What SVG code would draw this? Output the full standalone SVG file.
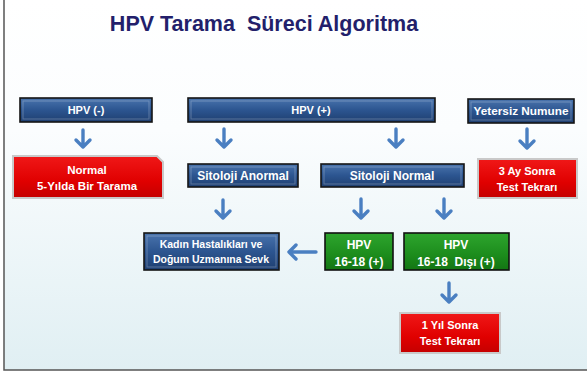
<svg xmlns="http://www.w3.org/2000/svg" width="587" height="374" viewBox="0 0 587 374">
<defs>
<linearGradient id="bg" x1="0" y1="0" x2="0" y2="1">
<stop offset="0" stop-color="#ffffff"/>
<stop offset="0.35" stop-color="#fbfdfe"/>
<stop offset="1" stop-color="#e0eff3"/>
</linearGradient>
<linearGradient id="blue" x1="0" y1="0" x2="0" y2="1">
<stop offset="0" stop-color="#4a74ad"/>
<stop offset="0.5" stop-color="#2c5590"/>
<stop offset="1" stop-color="#1f3f70"/>
</linearGradient>
<linearGradient id="red" x1="0" y1="0" x2="0" y2="1">
<stop offset="0" stop-color="#f01818"/>
<stop offset="0.6" stop-color="#e00000"/>
<stop offset="1" stop-color="#c40000"/>
</linearGradient>
<linearGradient id="green" x1="0" y1="0" x2="0" y2="1">
<stop offset="0" stop-color="#2ea52e"/>
<stop offset="0.6" stop-color="#1c8c1c"/>
<stop offset="1" stop-color="#137513"/>
</linearGradient>
</defs>
<style>
.t{font-family:"Liberation Sans",Arial,sans-serif;font-weight:bold;fill:#ffffff;text-anchor:middle}
.b{fill:url(#blue);stroke:#141414;stroke-width:1.6}
.r{fill:url(#red);stroke:#c9c9c9;stroke-width:2}
.g{fill:url(#green);stroke:#111111;stroke-width:1.6}
.hl{fill:none;stroke:#ffffff;stroke-opacity:0.25;stroke-width:1}
.arr{fill:none;stroke:#4a7fc1;stroke-width:3.4;stroke-linecap:round;stroke-linejoin:round}
</style>
<rect x="0" y="0" width="587" height="374" fill="#ffffff"/>
<rect x="4" y="0" width="583" height="370" fill="url(#bg)"/>
<path d="M4,0 V370 H587" fill="none" stroke="#555555" stroke-width="1.5"/>
<text x="264" y="31" xml:space="preserve" font-family="'Liberation Sans',Arial,sans-serif" font-weight="bold" font-size="21.5" fill="#231f6b" text-anchor="middle">HPV Tarama  Süreci Algoritma</text>

<g id="connectors">
<path class="arr" d="M83,130 V147 M76,140 L83,147 L90,140"/>
<path class="arr" d="M224,129 V147 M217,140 L224,147 L231,140"/>
<path class="arr" d="M396,129 V147 M389,140 L396,147 L403,140"/>
<path class="arr" d="M527,129 V148 M520,141 L527,148 L534,141"/>
<path class="arr" d="M223,200 V218 M216,211 L223,218 L230,211"/>
<path class="arr" d="M361,199 V218 M354,211 L361,218 L368,211"/>
<path class="arr" d="M444,199 V218 M437,211 L444,218 L451,211"/>
<path class="arr" d="M316,252 H289 M296,245 L289,252 L296,259"/>
<path class="arr" d="M449,283 V302 M442,295 L449,302 L456,295"/>
</g>

<g id="hpv-neg">
<rect class="b" x="20" y="98" width="132" height="24"/>
<rect class="hl" x="23" y="101" width="126" height="18"/>
<text class="t" x="86" y="114" font-size="11">HPV (-)</text>
</g>
<g id="hpv-pos">
<rect class="b" x="188" y="98" width="247" height="24"/>
<rect class="hl" x="191" y="101" width="241" height="18"/>
<text class="t" x="311" y="114" font-size="11">HPV (+)</text>
</g>
<g id="yetersiz">
<rect class="b" x="468" y="99" width="106" height="24"/>
<rect class="hl" x="471" y="102" width="100" height="18"/>
<text class="t" x="521" y="115" font-size="11.8">Yetersiz Numune</text>
</g>
<g id="normal">
<path class="r" d="M13,156 H157 L163,162 V198 H13 Z"/>
<text class="t" x="87" y="174" font-size="11.5">Normal</text>
<text class="t" x="87" y="190" font-size="11.5">5-Yılda Bir Tarama</text>
</g>
<g id="sitoloji-anormal">
<rect class="b" x="188" y="164" width="110" height="23"/>
<rect class="hl" x="191" y="167" width="104" height="17"/>
<text class="t" x="243" y="180" font-size="12">Sitoloji Anormal</text>
</g>
<g id="sitoloji-normal">
<rect class="b" x="321" y="164" width="143" height="23"/>
<rect class="hl" x="324" y="167" width="137" height="17"/>
<text class="t" x="392" y="180" font-size="12">Sitoloji Normal</text>
</g>
<g id="uc-ay">
<rect class="r" x="478" y="159" width="99" height="39"/>
<text class="t" x="527" y="175" font-size="11">3 Ay Sonra</text>
<text class="t" x="527" y="191" font-size="11">Test Tekrarı</text>
</g>
<g id="kadin">
<rect class="b" x="144" y="233" width="135" height="37"/>
<rect class="hl" x="147" y="236" width="129" height="31"/>
<text class="t" x="211" y="248" font-size="10.5">Kadın Hastalıkları ve</text>
<text class="t" x="211" y="263" font-size="10.5">Doğum Uzmanına Sevk</text>
</g>
<g id="hpv-1618">
<rect class="g" x="325" y="233" width="68" height="37"/>
<text class="t" x="359" y="249" font-size="12">HPV</text>
<text class="t" x="359" y="266" font-size="12">16-18 (+)</text>
</g>
<g id="hpv-1618-disi">
<rect class="g" x="404" y="233" width="105" height="37"/>
<text class="t" x="456" y="249" font-size="12">HPV</text>
<text class="t" x="456" y="266" font-size="12" xml:space="preserve">16-18  Dışı (+)</text>
</g>
<g id="bir-yil">
<rect class="r" x="400" y="313" width="100" height="40"/>
<text class="t" x="450" y="329" font-size="11">1 Yıl Sonra</text>
<text class="t" x="450" y="345" font-size="11">Test Tekrarı</text>
</g>
</svg>
